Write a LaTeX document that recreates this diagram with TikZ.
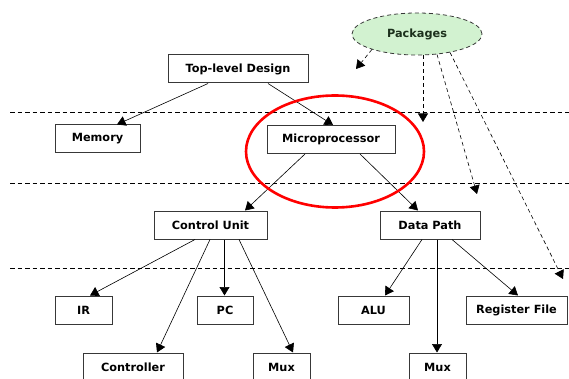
\documentclass[tikz,border=0pt]{standalone}
\usepackage{fontspec}
\setmainfont{DejaVu Sans}
\usetikzlibrary{arrows.meta,shapes.geometric}
\definecolor{pkggreen}{HTML}{D2F2D0}
\definecolor{pkgtext}{HTML}{1C301C}
\definecolor{boxedge}{HTML}{383838}
\tikzset{
  blk/.style={draw=boxedge, line width=1pt, fill=white, minimum height=28pt,
    inner sep=0pt, font=\fontsize{11.3}{13}\selectfont\bfseries},
  link/.style={line width=0.6pt, -{Triangle[length=8.5pt,width=10pt]}},
  pkglink/.style={line width=0.6pt, dash pattern=on 4pt off 3pt, -{Triangle[length=8.5pt,width=10pt]}},
  tier/.style={line width=0.7pt, dash pattern=on 4.5pt off 3pt},
}
\begin{document}
\begin{tikzpicture}[x=1pt,y=-1pt]
\useasboundingbox (0,0) rectangle (569,379);

% tier separators
\draw[tier] (10,112) -- (569,112);
\draw[tier] (10,183) -- (569,183);
\draw[tier] (10,268) -- (569,268);

% design hierarchy
\node[blk, minimum width=140pt] (top)   at (238,69)    {Top-level Design};
\node[blk, minimum width=85pt]  (mem)   at (97.5,139)  {Memory};
\node[blk, minimum width=128pt] (micro) at (331,139.5) {Microprocessor};
\node[blk, minimum width=113pt] (cu)    at (210.5,225) {Control Unit};
\node[blk, minimum width=100pt] (dp)    at (430,225)   {Data Path};
\node[blk, minimum width=57pt]  (ir)    at (83.5,310)  {IR};
\node[blk, minimum width=56pt]  (pc)    at (225,310)   {PC};
\node[blk, minimum width=71pt]  (alu)   at (373.5,310) {ALU};
\node[blk, minimum width=101pt] (rf)    at (516.5,310) {Register File};
\node[blk, minimum width=100pt] (ctrl)  at (133,367)   {Controller};
\node[blk, minimum width=57pt]  (muxa)  at (281.5,367) {Mux};
\node[blk, minimum width=57pt]  (muxb)  at (437.5,367) {Mux};

% packages bubble
\node[ellipse, draw=boxedge, fill=pkggreen, line width=0.8pt, dash pattern=on 4pt off 3pt,
  minimum width=130pt, minimum height=42pt, inner sep=0pt,
  font=\fontsize{11.3}{13}\selectfont\bfseries, text=pkgtext] (pkg) at (417,34) {Packages};

% hierarchy connectors
\draw[link] ([xshift=-30pt]top.south)   -- ([xshift=19.5pt]mem.north);
\draw[link] ([xshift=30pt]top.south)    -- ([xshift=2pt]micro.north);
\draw[link] ([xshift=-26pt]micro.south) -- ([xshift=34.5pt]cu.north);
\draw[link] ([xshift=29pt]micro.south)  -- ([xshift=-12pt]dp.north);
\draw[link] ([xshift=-15.5pt]cu.south)  -- ([xshift=6.5pt]ir.north);
\draw[link] ([xshift=14pt]cu.south)     -- ([xshift=-0.5pt]pc.north);
\draw[link] ([xshift=-0.5pt]cu.south)   -- ([xshift=24pt]ctrl.north);
\draw[link] ([xshift=28.5pt]cu.south)   -- ([xshift=11.5pt]muxa.north);
\draw[link] ([xshift=-8pt]dp.south)     -- ([xshift=11.5pt]alu.north);
\draw[link] ([xshift=7pt]dp.south)      -- ([xshift=-0.5pt]muxb.north);
\draw[link] ([xshift=22pt]dp.south)     -- ([xshift=1.5pt]rf.north);

% package dependencies
\coordinate (usetop)  at (356,69);
\coordinate (usemid)  at (423,122);
\coordinate (usedp)   at (477,194);
\coordinate (userf)   at (563,279);
\draw[pkglink] ([xshift=-45pt,yshift=6pt]pkg.south) -- (usetop);
\draw[pkglink] ([xshift=6pt]pkg.south) -- (usemid);
\draw[pkglink] ([xshift=20pt,yshift=1pt]pkg.south) -- (usedp);
\draw[pkglink] ([xshift=33pt,yshift=3pt]pkg.south) -- (userf);

% highlight around the processor
\draw[red, line width=2.6pt] (335,151.5) ellipse [x radius=89pt, y radius=56pt];
\end{tikzpicture}
\end{document}
